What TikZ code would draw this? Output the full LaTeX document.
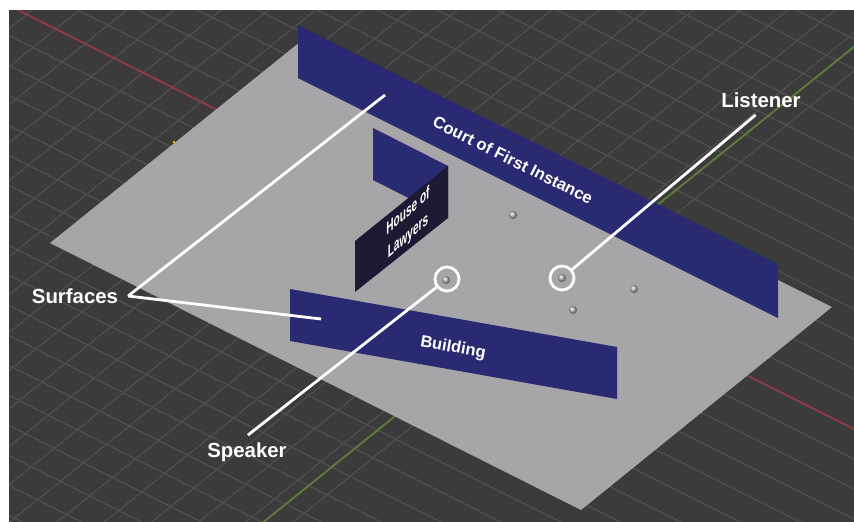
\documentclass[tikz,border=0pt]{standalone}
\usepackage{fontspec}
\setmainfont{Liberation Sans}
\usepackage{xcolor}
\usetikzlibrary{positioning}

\definecolor{viewport}{HTML}{3B3B3B}
\definecolor{gridline}{HTML}{4F4F4F}
\definecolor{axisred}{HTML}{8C3A44}
\definecolor{axisgreen}{HTML}{5D7A38}
\definecolor{ground}{HTML}{A6A6A8}
\definecolor{wallblue}{HTML}{2A2A72}
\definecolor{wallshade}{HTML}{1C1A33}

\begin{document}
\begin{tikzpicture}[x=0.02cm,y=-0.02cm,
  gridrule/.style={gridline,line width=0.7pt},
  axisrule/.style={line width=1.1pt},
  wall/.style={fill=wallblue},
  callout/.style={white,line width=1.6pt},
  ring/.style={circle,draw=white,line width=1.6pt,minimum size=0.48cm,inner sep=0pt},
  calloutlabel/.style={white,font=\bfseries\fontsize{11.6}{13}\selectfont,inner sep=4pt},
  walltext/.style={white,font=\bfseries\fontsize{9.4}{11}\selectfont,inner sep=0pt},
  sphere/.style={circle,ball color=gray!55,minimum size=0.16cm,inner sep=0pt}]

\useasboundingbox (0,0) rectangle (854,521);
\fill[white] (0,0) rectangle (854,521);
\begin{scope}
\clip (9,10) rectangle (860,530);
\fill[viewport] (9,10) rectangle (860,530);
\foreach \k in {-20,...,20}
  \draw[gridrule] (0,{1+30*\k}) -- (860,{432+30*\k});
\foreach \k in {-19,...,19}
  \draw[gridrule] (0,{36+38*\k}) -- (860,{-656+38*\k});
\draw[axisrule,axisred] (0,1) -- (860,432);
\draw[axisrule,axisgreen] (0,734) -- (860,42);
\end{scope}

\fill[ground] (50,243) -- (300,42) -- (832,307) -- (581,510) -- cycle;
\fill[wall] (298,25) -- (778,264) -- (778,318) -- (298,78) -- cycle;
\fill[wall] (373,128) -- (448,166) -- (448,218) -- (373,180) -- cycle;
\fill[wallshade] (448,166) -- (448,218) -- (355,292) -- (355,241) -- cycle;
\fill[wall] (290,289) -- (617,347) -- (617,399) -- (290,341) -- cycle;
\fill[orange!70!yellow] (174,142) circle (1.5);

\node[walltext,rotate=-26.5] (court) at (513,160) {Court of First Instance};
\node[walltext,rotate=-10] (building) at (453,348) {Building};
\node[walltext,align=center,rotate=41,xslant=0.87,transform shape,font=\bfseries\fontsize{7.6}{10.5}\selectfont] (house) at (408,224) {House of\\Lawyers};

\node[sphere] (s1) at (513,215) {};
\node[sphere] (s2) at (634,289) {};
\node[sphere] (s3) at (573,310) {};
\node[sphere] (s4) at (446,280) {};
\node[sphere] (s5) at (562,278) {};

\node[ring] (speakerRing) at (447,279) {};
\node[ring] (listenerRing) at (562,278) {};
\node[calloutlabel,inner xsep=5.5pt] (surfaces) at (75,296) {Surfaces};
\node[calloutlabel] (speaker) at (247,452) {Speaker};
\node[calloutlabel] (listener) at (761,100) {Listener};
\coordinate (courtEnd) at (385,95);
\coordinate (buildingEnd) at (321,319);

\draw[callout] (surfaces.east) -- (courtEnd);
\draw[callout] (surfaces.east) -- (buildingEnd);
\draw[callout] (speaker.87) -- (speakerRing);
\draw[callout] (listener.250) -- (listenerRing);
\end{tikzpicture}
\end{document}
